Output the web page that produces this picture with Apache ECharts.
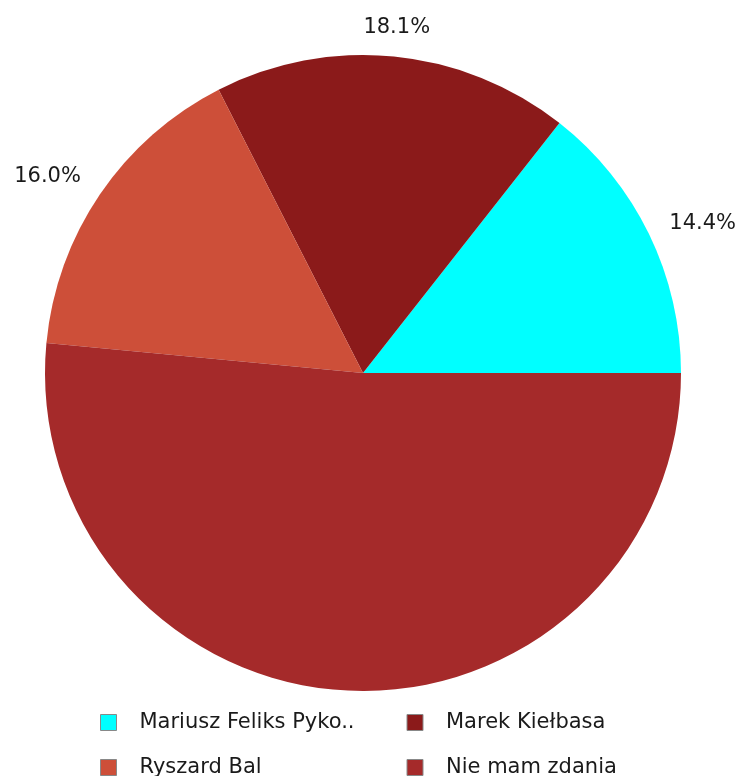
<!DOCTYPE html>
<html>
<head>
<meta charset="utf-8">
<script src="https://cdn.jsdelivr.net/npm/echarts@6/dist/echarts.min.js"></script>
<style>
  html, body { margin: 0; padding: 0; background: #fff; }
  #chart { width: 740px; height: 776px; }
</style>
</head>
<body>
<div id="chart"></div>
<script>
// kandydaci i wyniki (procenty)
const names = ['Mariusz Feliks Pyko..', 'Marek Kiełbasa', 'Ryszard Bal', 'Nie mam zdania']
const values = [14.4, 18.1, 16.0, 51.5]
const colors = ['#00ffff', '#8b1a1a', '#cd4f39', '#a52a2a']
// etykieta dużego wycinka nie jest pokazana
const showLabel = [true, true, true, false]

const chart = echarts.init(document.getElementById('chart'), null, { renderer: 'canvas' })

const data = names.map((n, i) => {
  const item = {
    name: n,
    value: values[i],
    itemStyle: { color: colors[i] },
    label: { show: showLabel[i] }
  }
  // górna etykieta trochę dalej od wycinka
  if (i === 1) {
    item.labelLine = { show: false, length: 29, length2: 0 }
  }
  return item
})

const option = {
  animation: false,
  legend: {
    left: 100,
    top: 712,
    width: 600,
    padding: 0,
    orient: 'horizontal',
    icon: 'rect',
    itemWidth: 16,
    itemHeight: 16,
    itemGap: 24,
    itemStyle: { borderColor: '#888', borderWidth: 1 },
    textStyle: {
      fontFamily: 'DejaVu Sans',
      fontSize: 21,
      color: '#1a1a1a',
      width: 243,
      lineHeight: 16,
      padding: [0, 0, 0, 18]
    },
    data: names
  },
  series: [
    {
      type: 'pie',
      center: [363, 373],
      radius: 318,
      startAngle: 0,
      clockwise: false,
      avoidLabelOverlap: false,
      itemStyle: { borderWidth: 0 },
      emphasis: { disabled: true },
      label: {
        position: 'outside',
        fontFamily: 'DejaVu Sans',
        fontSize: 21,
        color: '#1a1a1a',
        formatter: (p) => p.percent.toFixed(1) + '%'
      },
      labelLine: { show: false, length: 17, length2: 0 },
      // drobne poprawki położenia etykiet
      labelLayout: (params) => {
        if (params.dataIndex === 1) {
          return { align: 'center', dx: -5 }
        }
        if (params.dataIndex === 0) {
          return { dy: -3 }
        }
        if (params.dataIndex === 2) {
          return { dy: -8 }
        }
        return {}
      },
      data: data
    }
  ]
}

chart.setOption(option)
</script>
</body>
</html>
